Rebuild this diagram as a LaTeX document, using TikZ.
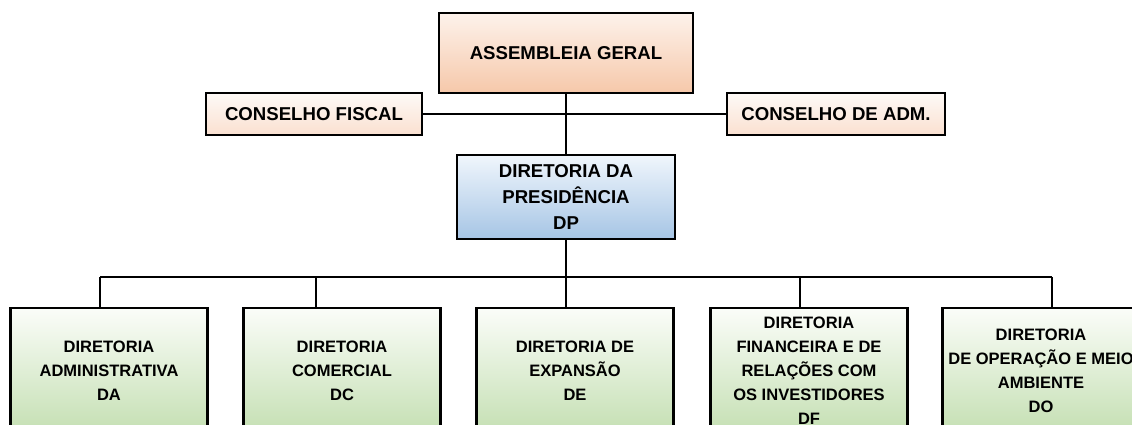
\documentclass[tikz,border=0pt]{standalone}
\usepackage{fontspec}
\setmainfont{Liberation Sans}
\definecolor{peachtop}{RGB}{253,242,235}
\definecolor{peachbot}{RGB}{246,200,170}
\definecolor{palepeachtop}{RGB}{254,250,247}
\definecolor{palepeachbot}{RGB}{250,224,208}
\definecolor{bluetop}{RGB}{240,246,252}
\definecolor{bluebot}{RGB}{166,197,229}
\definecolor{greentop}{RGB}{251,253,249}
\definecolor{greenbot}{RGB}{196,223,178}
\begin{document}
\begin{tikzpicture}[x=0.02cm,y=-0.02cm,
  orgbox/.style={draw,line width=1.6pt,inner sep=0pt,align=center,
    font=\bfseries\fontsize{10.6}{14.7}\selectfont},
  dirbox/.style={orgbox,top color=greentop,bottom color=greenbot,
    minimum width=3.94cm,minimum height=2.52cm,
    font=\bfseries\fontsize{9.4}{13.6}\selectfont},
  link/.style={line width=1.1pt}]
\path[use as bounding box] (0,0) rectangle (1132,425);
\clip (0,0) rectangle (1132,425);
\node[orgbox,top color=peachtop,bottom color=peachbot,minimum width=5.08cm,minimum height=1.6cm] (ag) at (566,53) {ASSEMBLEIA GERAL};
\node[orgbox,top color=palepeachtop,bottom color=palepeachbot,minimum width=4.32cm,minimum height=0.84cm] (cf) at (314,114) {CONSELHO FISCAL};
\node[orgbox,top color=palepeachtop,bottom color=palepeachbot,minimum width=4.36cm,minimum height=0.84cm] (ca) at (836,114) {CONSELHO DE ADM.};
\node[orgbox,top color=bluetop,bottom color=bluebot,minimum width=4.36cm,minimum height=1.68cm] (dp) at (566,197) {DIRETORIA DA\\PRESIDÊNCIA\\DP};
\node[dirbox] (da) at (109,371) {DIRETORIA\\ADMINISTRATIVA\\DA};
\node[dirbox] (dc) at (342,371) {DIRETORIA\\COMERCIAL\\DC};
\node[dirbox] (dexp) at (575,371) {DIRETORIA DE\\EXPANSÃO\\DE};
\node[dirbox] (dfin) at (809,371) {DIRETORIA\\FINANCEIRA E DE\\RELAÇÕES COM\\OS INVESTIDORES\\DF};
\node[dirbox] (dop) at (1041,371) {DIRETORIA\\DE OPERAÇÃO E MEIO\\AMBIENTE\\DO};
% bus points
\coordinate (b1) at (100,277);
\coordinate (b2) at (316,277);
\coordinate (b3) at (566,277);
\coordinate (b4) at (800,277);
\coordinate (b5) at (1052,277);
\draw[link] (ag) -- (dp);
\draw[link] (cf) -- (ca);
\draw[link] (dp) -- (b3);
\draw[link] (b1) -- (b5);
\foreach \b/\n in {b1/da,b2/dc,b3/dexp,b4/dfin,b5/dop}
  \draw[link] (\b) -- (\b |- \n.north);
\end{tikzpicture}
\end{document}
